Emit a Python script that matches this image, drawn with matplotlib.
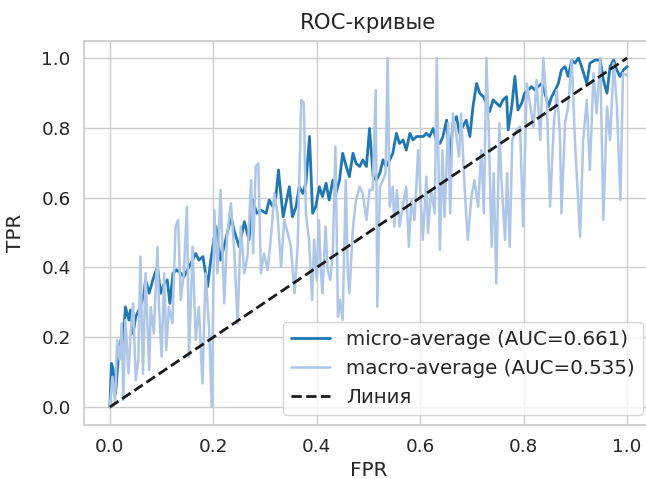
import numpy as np
import matplotlib
matplotlib.use('Agg')
import matplotlib.pyplot as plt
import seaborn as sns

sns.set_theme(style='whitegrid', font_scale=1.2)
plt.rcParams['font.family'] = ['DejaVu Sans']

# micro-average curve
micro_fpr = [0.0, 0.003, 0.006, 0.011, 0.016, 0.021, 0.026, 0.030, 0.037, 0.040,
             0.045, 0.050, 0.059, 0.066, 0.069, 0.076, 0.083, 0.092, 0.098, 0.105,
             0.111, 0.116, 0.122, 0.129, 0.137, 0.143, 0.150, 0.160, 0.166, 0.172,
             0.180, 0.189, 0.195, 0.205, 0.214, 0.224, 0.234, 0.240, 0.250, 0.260,
             0.269, 0.276, 0.284, 0.292, 0.302, 0.308, 0.315, 0.321, 0.326, 0.329,
             0.335, 0.347, 0.353, 0.360, 0.366, 0.373, 0.379, 0.386, 0.392, 0.398,
             0.405, 0.411, 0.418, 0.424, 0.431, 0.437, 0.444, 0.450, 0.457, 0.463,
             0.470, 0.476, 0.483, 0.489, 0.496, 0.502, 0.509, 0.515, 0.522, 0.528,
             0.534, 0.541, 0.547, 0.554, 0.560, 0.567, 0.573, 0.580, 0.586, 0.593,
             0.599, 0.606, 0.612, 0.618, 0.625, 0.631, 0.638, 0.644, 0.651, 0.657,
             0.663, 0.670, 0.676, 0.682, 0.689, 0.696, 0.702, 0.709, 0.715, 0.722,
             0.728, 0.734, 0.741, 0.748, 0.754, 0.760, 0.767, 0.770, 0.777, 0.783,
             0.789, 0.796, 0.802, 0.809, 0.815, 0.822, 0.828, 0.835, 0.841, 0.848,
             0.854, 0.861, 0.867, 0.873, 0.880, 0.886, 0.893, 0.899, 0.906, 0.912,
             0.922, 0.928, 0.938, 0.948, 0.954, 0.961, 0.967, 0.974, 0.980, 0.986,
             0.993, 1.0]
micro_tpr = [0.0, 0.125, 0.111, 0.039, 0.135, 0.192, 0.182, 0.287, 0.249, 0.278,
             0.211, 0.259, 0.287, 0.326, 0.364, 0.326, 0.364, 0.402, 0.326, 0.354,
             0.364, 0.297, 0.383, 0.393, 0.383, 0.373, 0.393, 0.421, 0.440, 0.421,
             0.431, 0.345, 0.421, 0.517, 0.421, 0.479, 0.545, 0.507, 0.459, 0.531,
             0.479, 0.593, 0.555, 0.564, 0.555, 0.593, 0.574, 0.603, 0.679, 0.631,
             0.545, 0.631, 0.545, 0.574, 0.631, 0.612, 0.641, 0.775, 0.555, 0.574,
             0.631, 0.603, 0.641, 0.593, 0.650, 0.612, 0.650, 0.727, 0.689, 0.660,
             0.727, 0.698, 0.689, 0.708, 0.689, 0.798, 0.660, 0.650, 0.670, 0.708,
             0.689, 0.708, 0.727, 0.784, 0.755, 0.765, 0.736, 0.784, 0.765, 0.775,
             0.775, 0.775, 0.784, 0.775, 0.798, 0.765, 0.755, 0.775, 0.822, 0.698,
             0.813, 0.832, 0.784, 0.803, 0.822, 0.775, 0.861, 0.927, 0.899, 0.889,
             0.870, 0.846, 0.880, 0.870, 0.861, 0.880, 0.889, 0.794, 0.861, 0.947,
             0.851, 0.870, 0.899, 0.908, 0.918, 0.908, 0.918, 0.927, 0.899, 0.861,
             0.889, 0.908, 0.927, 0.966, 0.975, 0.947, 0.994, 0.985, 1.0, 0.975,
             0.927, 0.985, 0.994, 0.994, 0.937, 0.899, 0.975, 0.994, 0.966, 0.947,
             0.966, 0.975]

# macro-average curve
macro_fpr = [0.0, 0.005, 0.010, 0.014, 0.019, 0.023, 0.026, 0.030, 0.036, 0.040,
             0.045, 0.050, 0.055, 0.059, 0.064, 0.069, 0.076, 0.079, 0.085, 0.092,
             0.095, 0.100, 0.105, 0.109, 0.114, 0.121, 0.127, 0.132, 0.137, 0.143,
             0.149, 0.153, 0.160, 0.166, 0.172, 0.179, 0.185, 0.192, 0.197, 0.202,
             0.208, 0.214, 0.221, 0.227, 0.234, 0.240, 0.247, 0.253, 0.260, 0.266,
             0.273, 0.277, 0.282, 0.287, 0.292, 0.298, 0.305, 0.311, 0.318, 0.324,
             0.331, 0.337, 0.344, 0.350, 0.357, 0.363, 0.370, 0.375, 0.379, 0.385,
             0.391, 0.395, 0.400, 0.404, 0.408, 0.411, 0.417, 0.421, 0.426, 0.431,
             0.436, 0.441, 0.445, 0.450, 0.456, 0.460, 0.463, 0.470, 0.476, 0.483,
             0.489, 0.496, 0.502, 0.508, 0.514, 0.517, 0.522, 0.528, 0.533, 0.537,
             0.541, 0.547, 0.550, 0.555, 0.560, 0.566, 0.573, 0.578, 0.583, 0.589,
             0.596, 0.605, 0.612, 0.615, 0.621, 0.628, 0.632, 0.638, 0.643, 0.647,
             0.654, 0.658, 0.663, 0.670, 0.675, 0.679, 0.686, 0.692, 0.699, 0.705,
             0.712, 0.718, 0.723, 0.728, 0.733, 0.738, 0.742, 0.747, 0.753, 0.757,
             0.764, 0.768, 0.773, 0.778, 0.786, 0.793, 0.799, 0.806, 0.819, 0.825,
             0.832, 0.838, 0.845, 0.851, 0.858, 0.864, 0.870, 0.873, 0.880, 0.886,
             0.893, 0.899, 0.909, 0.915, 0.922, 0.928, 0.935, 0.941, 0.948, 0.954,
             0.961, 0.967, 0.974, 0.980, 0.987, 0.992, 1.0]
macro_tpr = [0.0, 0.087, 0.011, 0.192, 0.135, 0.240, 0.020, 0.249, 0.096, 0.211,
             0.297, 0.077, 0.135, 0.431, 0.096, 0.383, 0.106, 0.287, 0.211, 0.459,
             0.287, 0.144, 0.383, 0.163, 0.287, 0.240, 0.517, 0.536, 0.307, 0.383,
             0.574, 0.144, 0.459, 0.192, 0.287, 0.068, 0.383, 0.221, 0.0, 0.564,
             0.383, 0.622, 0.297, 0.498, 0.584, 0.459, 0.240, 0.517, 0.383, 0.431,
             0.650, 0.440, 0.689, 0.698, 0.383, 0.440, 0.393, 0.479, 0.612, 0.555,
             0.402, 0.536, 0.498, 0.459, 0.326, 0.459, 0.880, 0.870, 0.555, 0.479,
             0.307, 0.479, 0.364, 0.536, 0.383, 0.326, 0.517, 0.393, 0.364, 0.440,
             0.746, 0.259, 0.307, 0.249, 0.650, 0.383, 0.326, 0.517, 0.593, 0.631,
             0.612, 0.536, 0.622, 0.622, 0.908, 0.287, 0.631, 0.650, 0.670, 1.0,
             0.574, 0.631, 0.517, 0.622, 0.517, 0.574, 0.631, 0.459, 0.593, 0.536,
             0.736, 0.479, 0.660, 0.498, 0.622, 0.555, 1.0, 0.450, 0.736, 0.545,
             0.813, 0.555, 0.841, 0.775, 0.717, 0.841, 0.622, 0.479, 0.603, 0.650,
             0.574, 0.736, 0.555, 1.0, 0.765, 0.459, 0.670, 0.354, 0.813, 0.650,
             0.479, 0.670, 0.459, 0.765, 0.794, 0.803, 0.517, 0.927, 0.803, 0.937,
             0.765, 1.0, 0.861, 0.574, 0.803, 0.908, 0.784, 0.555, 0.813, 0.861,
             0.994, 0.765, 0.488, 0.765, 0.880, 0.679, 0.956, 0.841, 1.0, 0.536,
             0.861, 0.765, 0.985, 0.870, 0.593, 0.956, 0.95]

diag = [0, 1]

fig = plt.figure(figsize=(6.46, 4.79), dpi=100)
ax = fig.add_axes([84/646, 54.5/479, 569/646, 384/479])

ax.plot(micro_fpr, micro_tpr, color='#1f77b4', lw=2, label='micro-average (AUC=0.661)')
ax.plot(macro_fpr, macro_tpr, color='#aec7e8', lw=1.8, label='macro-average (AUC=0.535)')
ax.plot(diag, diag, 'k--', lw=2, label='Линия')

ax.set_xlim(-0.05, 1.05)
ax.set_ylim(-0.05, 1.05)
ax.set_xticks(np.arange(0, 1.01, 0.2))
ax.set_yticks(np.arange(0, 1.01, 0.2))
ax.set_xlabel('FPR')
ax.set_ylabel('TPR', labelpad=12)
ax.set_title('ROC-кривые', fontsize=15.3, pad=8)
ax.legend(loc='lower right', fontsize=14.3)

fig.savefig('out.png', dpi=100)
